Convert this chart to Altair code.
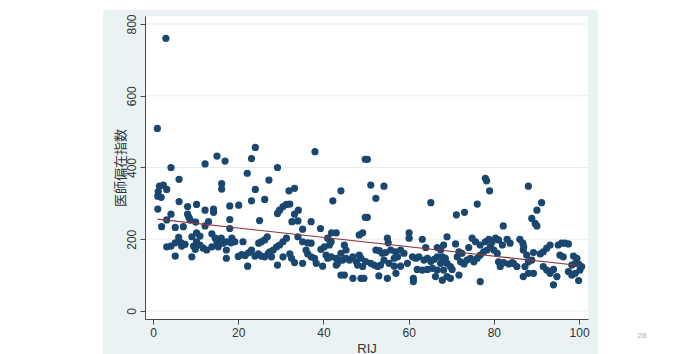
import altair as alt
import pandas as pd

# ---- data ----
rij = [
    1, 3, 1.2, 1.1, 1.9, 1.5, 2.4, 3.2, 4.2, 6.1, 12.2, 15, 16.9,
    1.1, 6.1, 8.1, 10.2, 12.2, 14.2, 14.2, 4.2, 3.2, 8.1, 8.4, 8.7,
    2.0, 5.2, 7.1, 10.0, 13, 12.2, 10.2, 11, 9.1, 13.8, 14.6, 15,
    6, 6.6, 5.2, 4.2, 3.2, 6.7, 7.5, 10.2, 11, 9.5, 9.9, 11.8, 12.6, 13.8,
    5.2, 9.1, 15.3, 16.1, 16.1,
    24.0, 23.1, 29.2, 22.1, 27.2, 24.0, 31.9, 23.1, 26.2,
    29.7, 30.5, 31.3, 32.1, 18, 20.1, 29.2, 18, 25.0, 32.6, 18,
    16, 16.4, 17.2, 18.5, 19.2, 18.3, 21.1, 26.8, 26.2, 25.4, 24.8,
    31.3, 30.5, 29.7, 29, 28.2, 17.2, 17.2,
    20, 20.8, 21.6, 22.4, 23.1, 23.9, 24.7, 25.4, 26.2, 27, 27.8, 27.4,
    22.2, 29.2, 30.5, 32.1, 32.5,
    38.0, 49.8, 33.2, 44.1, 42.2, 34.1, 33.2, 34, 37.1, 39.3, 35.1, 41.9, 43,
    49.8, 48.4, 49.2, 34, 35.1, 36.3, 37.1, 41, 41.8, 41.4, 40.2, 39.4,
    44.9, 45.3, 44.1, 35.9, 36.3, 37.1, 37.9, 38.3, 39.8,
    40.6, 41, 41.8, 43, 43, 43.3, 43.7, 44.5, 45.3, 46.1, 46.9, 47.7, 48.4, 48.8, 48.0, 49.2,
    33.2, 35.1, 44.1, 44.9, 46.9, 48.8,
    50.3, 51.1, 54.2, 52.3, 65.2, 50.3, 55, 55.2, 60.1, 60.1, 63.2, 64,
    52.3, 53.1, 53.8, 54.6, 55.8, 56.9, 58.1, 58.9, 57.4, 56.6,
    60.9, 61.7, 62.4, 63.6, 64.4, 65.2, 66, 66.7,
    49.9, 51.1, 51.9, 52.7, 53.4, 54.2, 55.4, 56.6,
    58.1, 59.7, 62.0, 63.2, 64.4, 65.6, 66.7, 66.3,
    53, 55, 57, 61.1, 61.1, 49.5,
    78.0, 78.3, 79.0, 76.1, 71.2, 73.1, 82.2, 69.0,
    68.2, 71, 71.8, 72.5, 74.1, 74.9, 75.7, 76.8, 78, 78.8, 79.6, 80.4, 81.1, 82, 83.1, 79.2, 80, 80.8, 78.4,
    66.7, 67.5, 67.9, 68.6, 69, 69.8, 70.2, 67.5, 68.2, 69, 69.8, 67.9,
    71.4, 72.2, 73, 73.7, 74.5, 75.3, 76.1, 76.8, 77.6,
    71.8, 76.8, 81.1, 81.5, 82.3, 83.5, 84.3,
    88.1, 91.2, 90.1, 88.9, 89.7, 90.1, 86.1, 86.8, 87, 83.8,
    93.2, 92.4, 91.6, 90.9, 95.1, 95.9, 96.7, 97.5,
    95.5, 96.3, 98.7, 99.5, 99.1, 98.3, 99.9, 100.2, 99.9, 100.6,
    84.6, 85.4, 87.3, 88.1, 88.9, 89.3, 86.9, 87.7,
    86.9, 88.1, 89.3, 91.6, 92.4, 93.2, 94, 94.8, 94,
    97.5, 98.3, 99.1,
]
idx = [
    509, 760, 333, 320, 317, 348, 351, 339, 400, 367, 410, 432, 418,
    284, 305, 291, 297, 281, 284, 275, 270, 254, 270, 261, 254,
    235, 233, 235, 248, 249, 237, 218, 209, 207, 215, 203, 190,
    205, 190, 190, 181, 179, 181, 186, 193, 184, 181, 172, 175, 170, 179,
    153, 151, 179, 355, 340,
    456, 425, 400, 384, 365, 339, 335, 307, 311,
    281, 291, 297, 298, 293, 295, 272, 255, 252, 249, 230,
    203, 189, 193, 203, 193, 190, 193, 207, 198, 193, 189,
    203, 193, 184, 179, 170, 170, 147,
    152, 157, 155, 162, 170, 153, 159, 153, 151, 160, 151, 165,
    125, 128, 151, 159, 147,
    444, 423, 342, 335, 307, 281, 270, 251, 249, 230, 228, 218, 218,
    261, 212, 218, 207, 193, 190, 189, 203, 193, 184, 179, 172,
    184, 170, 161, 170, 159, 151, 147, 133, 125,
    156, 147, 151, 147, 128, 133, 142, 142, 147, 142, 151, 137, 156, 147, 128, 124,
    135, 133, 100, 100, 91, 91,
    423, 351, 348, 314, 302, 261, 203, 190, 218, 203, 200, 177,
    170, 168, 161, 163, 170, 165, 170, 161, 151, 147,
    151, 147, 151, 142, 147, 138, 144, 151,
    138, 133, 128, 124, 128, 142, 133, 125,
    125, 133, 116, 114, 116, 119, 114, 96,
    98, 91, 105, 91, 82, 91,
    370, 363, 335, 298, 268, 275, 237, 207,
    184, 187, 165, 161, 177, 203, 193, 184, 193, 200, 193, 203, 198, 184, 200, 179, 170, 161, 170,
    177, 170, 151, 147, 133, 124, 116, 133, 114, 96, 91, 86,
    151, 137, 131, 142, 147, 137, 147, 156, 165,
    100, 82, 137, 124, 135, 131, 135,
    348, 302, 281, 258, 244, 237, 200, 189, 179, 189,
    184, 175, 165, 159, 184, 189, 189, 187,
    156, 151, 153, 147, 133, 128, 131, 114, 85, 124,
    133, 124, 124, 137, 142, 163, 170, 156,
    96, 105, 105, 124, 114, 105, 116, 96, 73,
    110, 100, 105,
]
fit_rij = [1, 100]
fit_idx = [256, 127]
grid_vals = [0, 200, 400, 600, 800]
x_ticks = [0, 20, 40, 60, 80, 100]
y_ticks = [0, 200, 400, 600, 800]

pts = pd.DataFrame({"RIJ": rij, "idx": idx})
fit = pd.DataFrame({"RIJ": fit_rij, "idx": fit_idx})
grid = pd.DataFrame({"g": grid_vals})
one = pd.DataFrame({"k": [0]})

W, H = 443, 303
xscale = alt.Scale(domain=[-1.9, 102.1], nice=False, zero=False)
yscale = alt.Scale(domain=[-22.3, 822.3], nice=False, zero=False)

xaxis = alt.Axis(values=x_ticks, grid=False, title="RIJ", zindex=1,
                 domainColor="#4a4a4a", tickColor="#4a4a4a", tickSize=5,
                 labelFont="Liberation Sans", labelFontSize=12, labelColor="#333333",
                 labelPadding=3, titleFont="Liberation Sans", titleFontSize=13,
                 titleFontWeight="normal", titleColor="#333333",
                 titleY=29, titleBaseline="middle")
yaxis = alt.Axis(values=y_ticks, grid=False, title="医師偏在指数", zindex=1,
                 domainColor="#4a4a4a", tickColor="#4a4a4a", tickSize=5,
                 labelFont="Liberation Sans", labelFontSize=12, labelColor="#333333",
                 labelAngle=270, labelAlign="center", labelBaseline="bottom",
                 labelPadding=2,
                 titleFont="Noto Sans CJK JP", titleFontSize=13, titleFontWeight="normal",
                 titleColor="#333333", titleAngle=270, titleX=-25, titleY=151.5,
                 titleAlign="center", titleBaseline="middle")

panel = alt.Chart(one).mark_rect(color="#eaf2f3").encode(
    x=alt.value(-42), x2=alt.value(453), y=alt.value(-6), y2=alt.value(345))
plotbg = alt.Chart(one).mark_rect(color="white").encode(
    x=alt.value(0), x2=alt.value(W), y=alt.value(0), y2=alt.value(H))
gridl = alt.Chart(grid).mark_rule(color="#e6ecec", strokeWidth=1).encode(
    y=alt.Y("g:Q", scale=yscale, axis=yaxis), x=alt.value(0), x2=alt.value(W))
points = alt.Chart(pts).mark_circle(size=52, opacity=1, color="#1a476f").encode(
    x=alt.X("RIJ:Q", scale=xscale, axis=xaxis),
    y=alt.Y("idx:Q", scale=yscale, axis=yaxis))
line = alt.Chart(fit).mark_line(color="#90353b", strokeWidth=1.1).encode(
    x=alt.X("RIJ:Q", scale=xscale, axis=xaxis),
    y=alt.Y("idx:Q", scale=yscale, axis=yaxis))
page = alt.Chart(one).mark_text(text="28", fontSize=8, color="#aaaaaa",
                                font="Liberation Sans").encode(
    x=alt.value(497), y=alt.value(320))

chart = alt.layer(panel, plotbg, gridl, points, line, page).properties(
    width=W, height=H,
    autosize=alt.AutoSizeParams(type="none"),
    padding={"left": 145, "top": 16, "right": 112, "bottom": 35},
    background="white",
).configure_view(stroke=None)

chart.save("out.html", embed_options={"renderer": "svg", "actions": False})
